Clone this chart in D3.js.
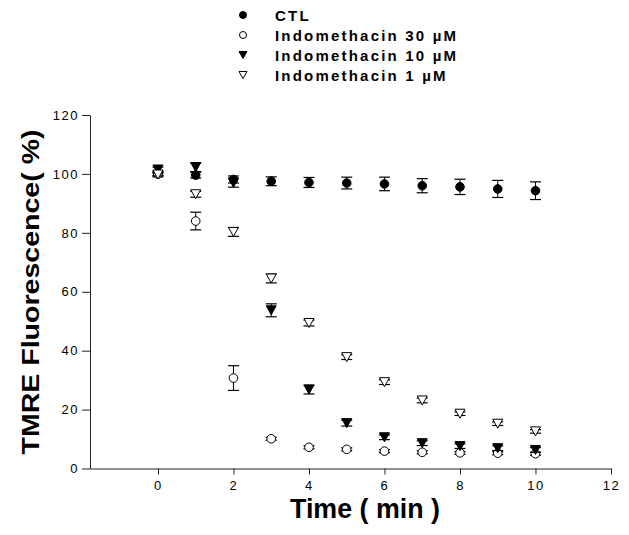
<!DOCTYPE html>
<html>
<head>
<meta charset="utf-8">
<script src="https://cdn.jsdelivr.net/npm/d3@7"></script>
<style>
  body { margin: 0; background: #fff; }
  text { font-family: "Liberation Sans", Arial, sans-serif; }
</style>
</head>
<body>
<script>
// time points (min)
const times = [0, 1, 2, 3, 4, 5, 6, 7, 8, 9, 10];

// mean values (%) and error (SEM) per group
const ctl = [100, 99.6, 98.1, 97.5, 97.1, 96.9, 96.6, 96.0, 95.6, 94.9, 94.3];
const ctlErr = [1, 1, 1.2, 1.5, 1.7, 2, 2.3, 2.4, 2.6, 2.9, 3];
const indo30 = [100, 84, 30.7, 10.1, 7.2, 6.5, 5.9, 5.5, 5.3, 5.2, 5.0];
const indo30Err = [0.5, 3, 4.2, 0.5, 0.5, 0.5, 0.5, 0.5, 0.5, 0.5, 0.5];
const indo10 = [101.5, 102.3, 97, 53.7, 26.8, 15.4, 10.6, 8.6, 7.6, 6.9, 6.3];
const indo10Err = [0.8, 1.5, 1.5, 2.2, 1.5, 1, 0.8, 0.8, 0.8, 0.8, 0.8];
const indo1 = [99.8, 93.1, 80.3, 64.5, 49.4, 37.8, 29.3, 23.1, 18.6, 15.2, 12.6];
const indo1Err = [0.5, 1, 1.5, 1.5, 1, 0.8, 0.8, 0.8, 0.6, 0.6, 0.6];

const seriesNames = ["CTL", "Indomethacin 30 \u00b5M", "Indomethacin 10 \u00b5M", "Indomethacin 1 \u00b5M"];
const xTicks = [0, 2, 4, 6, 8, 10, 12];
const yTicks = [0, 20, 40, 60, 80, 100, 120];

const width = 629, height = 535;

const series = [
  {name: seriesNames[0], vals: ctl, err: ctlErr, shape: "circle", fill: "#000"},
  {name: seriesNames[1], vals: indo30, err: indo30Err, shape: "circle", fill: "#fff"},
  {name: seriesNames[2], vals: indo10, err: indo10Err, shape: "tri", fill: "#000"},
  {name: seriesNames[3], vals: indo1, err: indo1Err, shape: "tri", fill: "#fff"}
];

const x = d3.scaleLinear().domain([-1.8, 12]).range([90, 611]);
const y = d3.scaleLinear().domain([0, 120]).range([468.5, 115]);

const svg = d3.select("body").append("svg")
  .attr("width", width)
  .attr("height", height);

// down-pointing triangle centred on its box
function triPath(w, h) {
  return `M${-w / 2},${-h / 2}L${w / 2},${-h / 2}L0,${h / 2}Z`;
}

function drawMarker(g, shape, fill, size) {
  if (shape === "circle") {
    g.append("circle").attr("r", size.r)
      .attr("fill", fill).attr("stroke", "#000").attr("stroke-width", 1);
  } else {
    g.append("path").attr("d", triPath(size.w, size.h))
      .attr("fill", fill).attr("stroke", "#000").attr("stroke-width", 1);
  }
}

// axes
const yAxis = d3.axisLeft(y).tickValues(yTicks).tickSize(8).tickSizeOuter(0).tickPadding(3);
const xAxis = d3.axisBottom(x).tickValues(xTicks).tickSize(6).tickSizeOuter(0).tickPadding(6);

const gy = svg.append("g").attr("transform", "translate(90,0)").call(yAxis);
const gx = svg.append("g").attr("transform", `translate(0,${y(0)})`).call(xAxis);

[gx, gy].forEach(g => {
  g.selectAll("path, line").attr("stroke", "#222");
  g.selectAll("text")
    .attr("font-family", "Liberation Sans, Arial, sans-serif")
    .attr("font-size", 13)
    .attr("letter-spacing", 1.5)
    .attr("fill", "#000");
});

// error bars + markers
series.forEach(s => {
  const g = svg.append("g");
  times.forEach((t, i) => {
    const cx = x(t), lo = y(s.vals[i] - s.err[i]), hi = y(s.vals[i] + s.err[i]);
    g.append("line").attr("x1", cx).attr("x2", cx).attr("y1", lo).attr("y2", hi)
      .attr("stroke", "#000").attr("stroke-width", 1);
    [lo, hi].forEach(yy => {
      g.append("line").attr("x1", cx - 5.5).attr("x2", cx + 5.5).attr("y1", yy).attr("y2", yy)
        .attr("stroke", "#000").attr("stroke-width", 1.2);
    });
  });
  times.forEach((t, i) => {
    const m = g.append("g").attr("transform", `translate(${x(t)},${y(s.vals[i])})`);
    drawMarker(m, s.shape, s.fill, {r: 4.3, w: 10, h: 9});
  });
});

// legend
const legend = svg.append("g");
series.forEach((s, i) => {
  const ry = 15 + i * 20;
  const m = legend.append("g").attr("transform", `translate(243,${ry})`);
  drawMarker(m, s.shape, s.fill, {r: 3.5, w: 8, h: 7});
  legend.append("text")
    .attr("x", 275).attr("y", ry + 5.5)
    .attr("font-size", 15).attr("font-weight", "bold")
    .attr("letter-spacing", 2.2)
    .text(s.name);
});

// axis titles
svg.append("text")
  .attr("transform", "translate(39,292) rotate(-90)")
  .attr("text-anchor", "middle")
  .attr("font-size", 24).attr("font-weight", "bold")
  .attr("textLength", 325).attr("lengthAdjust", "spacingAndGlyphs")
  .text("TMRE Fluorescence( %)");

svg.append("text")
  .attr("x", 365).attr("y", 518)
  .attr("text-anchor", "middle")
  .attr("font-size", 27).attr("font-weight", "bold")
  .attr("textLength", 150).attr("lengthAdjust", "spacingAndGlyphs")
  .text("Time ( min )");

// panel letter, mostly cut off by the bottom edge
svg.append("text")
  .attr("x", 1).attr("y", 555)
  .attr("font-size", 30).attr("font-weight", "bold")
  .text("B");
</script>
</body>
</html>
